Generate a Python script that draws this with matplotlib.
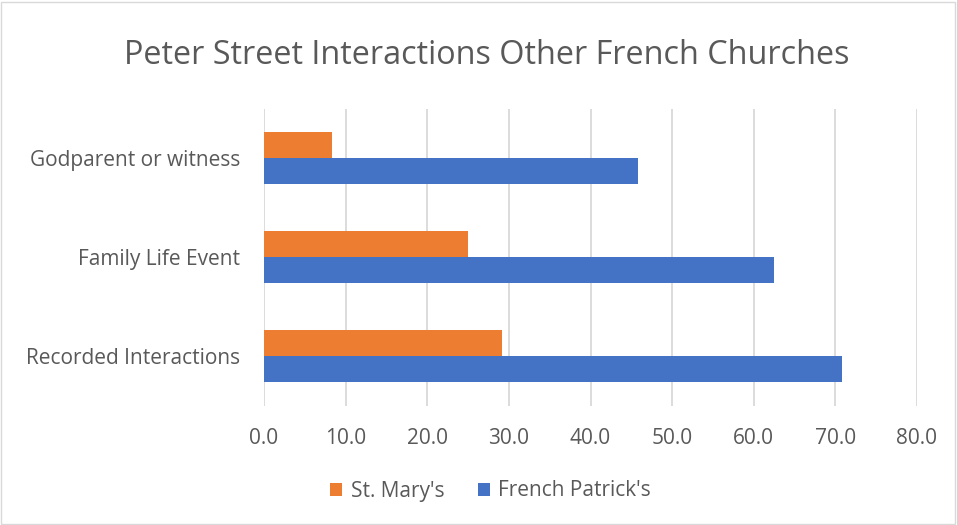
import numpy as np
import matplotlib.pyplot as plt
from matplotlib.patches import Rectangle

categories = ["Recorded Interactions", "Family Life Event", "Godparent or witness"]
st_marys = [29.2, 25.0, 8.3]
french_patricks = [70.8, 62.5, 45.8]
xticks = [0, 10, 20, 30, 40, 50, 60, 70, 80]

plt.rcParams['font.family'] = ['Open Sans', 'DejaVu Sans']
text_color = "#595959"

fig = plt.figure(figsize=(9.57, 5.25), dpi=100)
ax = fig.add_axes([0.2759, 0.2276, 0.6823, 0.5657])

y = np.arange(len(categories))
h = 0.263
ax.barh(y - h / 2, french_patricks, height=h, color="#4472C4", label="French Patrick's", zorder=3)
ax.barh(y + h / 2, st_marys, height=h, color="#ED7D31", label="St. Mary's", zorder=3)

ax.set_xlim(0, 80)
ax.set_ylim(-0.5, 2.5)
ax.set_xticks(xticks)
ax.set_xticklabels([f"{v:.1f}" for v in xticks], fontsize=15, color=text_color)
ax.set_yticks(y)
ax.set_yticklabels(categories, fontsize=15, color=text_color)
ax.tick_params(length=0)
ax.tick_params(axis="y", pad=17)
ax.tick_params(axis="x", pad=16)
ax.grid(axis="x", color="#D9D9D9", linewidth=1.3, zorder=0)
for s in ax.spines.values():
    s.set_visible(False)

# title and legend sit a little right of the figure centre in the original
fig.text(0.509, 1 - 55 / 525, "Peter Street Interactions Other French Churches",
         ha="center", va="center", fontsize=23.3, color=text_color)

handles, labels = ax.get_legend_handles_labels()
fig.legend(handles[::-1], labels[::-1], loc="center", bbox_to_anchor=(0.5125, 1 - 491 / 525), ncol=2,
           frameon=False, fontsize=15, labelcolor=text_color, handlelength=0.6,
           handleheight=0.6, handletextpad=0.4, columnspacing=1.6)

fig.patches.append(Rectangle((0.001, 0.002), 0.997, 0.995, transform=fig.transFigure,
                             fill=False, edgecolor="#D9D9D9", linewidth=1))

fig.savefig("out.png", dpi=100)
